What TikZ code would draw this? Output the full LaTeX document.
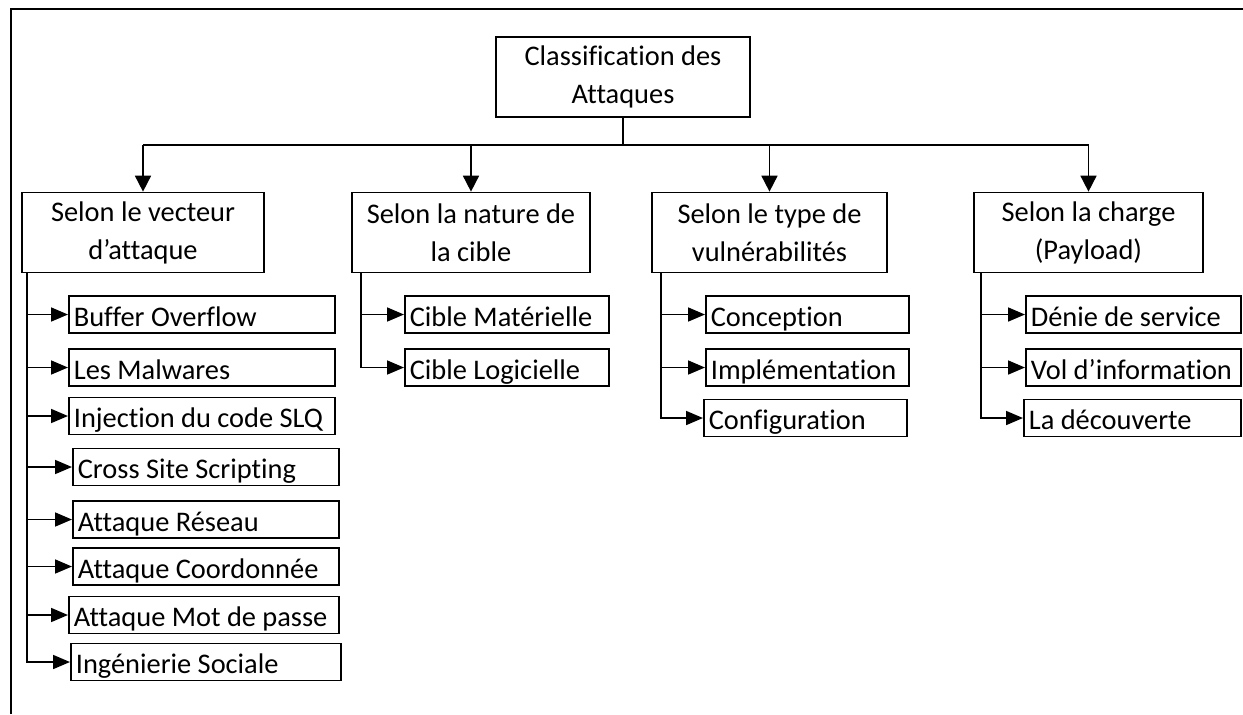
\documentclass[tikz,border=0pt]{standalone}
\usepackage{fontspec}
\setmainfont{Carlito}[Ligatures={NoCommon}]
\usetikzlibrary{arrows.meta}
\begin{document}
\begin{tikzpicture}[x=0.5pt,y=-0.5pt,
  every node/.style={font=\fontsize{14.2}{19}\selectfont},
  line width=0.85pt,
  mainbox/.style={draw, align=center, inner sep=0pt, minimum height=40pt},
  subbox/.style={draw, anchor=west, align=flush left, inner xsep=2.5pt, inner ysep=0pt,
    text height=15pt, text depth=3.5pt},
  harr/.style={-{Triangle[length=8.5pt,width=7pt]}},
  varr/.style={-{Triangle[length=8pt,width=8pt]}}]
\useasboundingbox (0,0) rectangle (1243,714);

% outer frame
\draw (11,714) -- (11,9) -- (1243,9);

% root
\node[mainbox, minimum width=127pt] (root) at (623,77) {Classification des\\Attaques};

% first level
\node[mainbox, minimum width=121pt] (p1) at (143,232.5) {Selon le vecteur\\d’attaque};
\node[mainbox, minimum width=119pt] (p2) at (471,232.5) {Selon la nature de\\la cible};
\node[mainbox, minimum width=117.5pt] (p3) at (769.5,232.5) {Selon le type de\\vulnérabilités};
\node[mainbox, minimum width=114.5pt] (p4) at (1088.5,232.5) {Selon la charge\\(Payload)};

% bus from root to first level
\coordinate (bus) at (623,145);
\draw (root.south) -- (bus);
\draw (p1.north |- bus) -- (p4.north |- bus);
\foreach \p in {p1,p2,p3,p4}
  \draw[varr] (\p.north |- bus) -- (\p.north);

% attack vectors
\node[subbox, text width=128pt] (a1) at (68,314.5) {Buffer Overflow};
\node[subbox, text width=128pt] (a2) at (68,367.5) {Les Malwares};
\node[subbox, text width=128pt] (a3) at (68,416) {Injection du code SLQ};
\node[subbox, text width=128pt] (a4) at (72,467) {Cross Site Scripting};
\node[subbox, text width=128pt] (a5) at (72,519.5) {Attaque Réseau};
\node[subbox, text width=128pt] (a6) at (72,566.5) {Attaque Coordonnée};
\node[subbox, text width=130pt] (a7) at (68,615) {Attaque Mot de passe};
\node[subbox, text width=130pt] (a8) at (70,662) {Ingénierie Sociale};

% target nature
\node[subbox, text width=97pt] (b1) at (404,314.5) {Cible Matérielle};
\node[subbox, text width=97pt] (b2) at (404,367.5) {Cible Logicielle};

% vulnerability type
\node[subbox, text width=96.5pt] (c1) at (705,314.5) {Conception};
\node[subbox, text width=96.5pt] (c2) at (705,367.5) {Implémentation};
\node[subbox, text width=96.5pt] (c3) at (703,418) {Configuration};

% payload
\node[subbox, text width=102.5pt] (d1) at (1025,314.5) {Dénie de service};
\node[subbox, text width=102.5pt] (d2) at (1025,367.5) {Vol d’information};
\node[subbox, text width=103.5pt] (d3) at (1023,418) {La découverte};

% trunks
\coordinate (t1) at ([xshift=3pt]p1.south west);
\coordinate (t2) at ([xshift=5pt]p2.south west);
\coordinate (t3) at ([xshift=5pt]p3.south west);
\coordinate (t4) at ([xshift=4pt]p4.south west);

\foreach \c in {a1,a2,a3,a4,a5,a6,a7}
  \draw[harr] (t1 |- \c.west) -- (\c.west);
\draw[harr] (t1) |- (a8.west);

\draw[harr] (t2 |- b1.west) -- (b1.west);
\draw[harr] (t2) |- (b2.west);

\foreach \c in {c1,c2}
  \draw[harr] (t3 |- \c.west) -- (\c.west);
\draw[harr] (t3) |- (c3.west);

\foreach \c in {d1,d2}
  \draw[harr] (t4 |- \c.west) -- (\c.west);
\draw[harr] (t4) |- (d3.west);
\end{tikzpicture}
\end{document}
